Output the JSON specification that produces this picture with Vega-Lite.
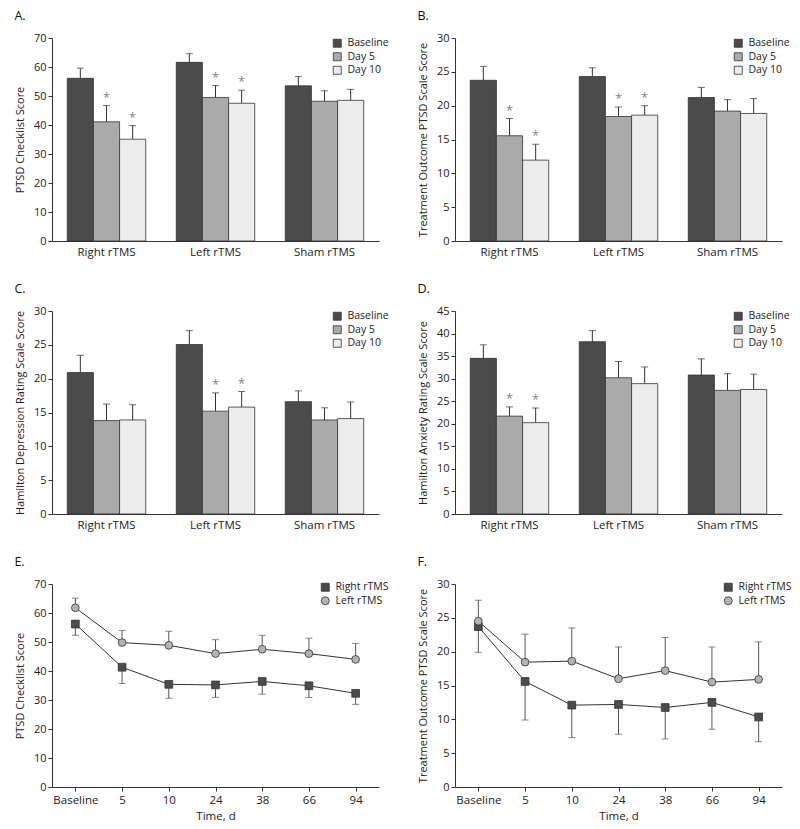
{
  "$schema": "https://vega.github.io/schema/vega-lite/v6.json",
  "background": "white",
  "padding": {"left": 14, "top": 9, "right": 5, "bottom": 5},
  "datasets": {
    "bars": [
      {"panel": "A", "group": "Right rTMS", "time": "Baseline", "mean": 56.1, "upper": 59.6, "star": false},
      {"panel": "A", "group": "Right rTMS", "time": "Day 5", "mean": 41.1, "upper": 46.7, "star": true},
      {"panel": "A", "group": "Right rTMS", "time": "Day 10", "mean": 35.1, "upper": 39.8, "star": true},
      {"panel": "A", "group": "Left rTMS", "time": "Baseline", "mean": 61.6, "upper": 64.6, "star": false},
      {"panel": "A", "group": "Left rTMS", "time": "Day 5", "mean": 49.5, "upper": 53.6, "star": true},
      {"panel": "A", "group": "Left rTMS", "time": "Day 10", "mean": 47.5, "upper": 52.0, "star": true},
      {"panel": "A", "group": "Sham rTMS", "time": "Baseline", "mean": 53.5, "upper": 56.7, "star": false},
      {"panel": "A", "group": "Sham rTMS", "time": "Day 5", "mean": 48.2, "upper": 51.8, "star": false},
      {"panel": "A", "group": "Sham rTMS", "time": "Day 10", "mean": 48.5, "upper": 52.3, "star": false},
      {"panel": "B", "group": "Right rTMS", "time": "Baseline", "mean": 23.75, "upper": 25.8, "star": false},
      {"panel": "B", "group": "Right rTMS", "time": "Day 5", "mean": 15.55, "upper": 18.1, "star": true},
      {"panel": "B", "group": "Right rTMS", "time": "Day 10", "mean": 11.95, "upper": 14.3, "star": true},
      {"panel": "B", "group": "Left rTMS", "time": "Baseline", "mean": 24.3, "upper": 25.6, "star": false},
      {"panel": "B", "group": "Left rTMS", "time": "Day 5", "mean": 18.4, "upper": 19.8, "star": true},
      {"panel": "B", "group": "Left rTMS", "time": "Day 10", "mean": 18.6, "upper": 20.0, "star": true},
      {"panel": "B", "group": "Sham rTMS", "time": "Baseline", "mean": 21.2, "upper": 22.7, "star": false},
      {"panel": "B", "group": "Sham rTMS", "time": "Day 5", "mean": 19.2, "upper": 20.9, "star": false},
      {"panel": "B", "group": "Sham rTMS", "time": "Day 10", "mean": 18.85, "upper": 21.05, "star": false},
      {"panel": "C", "group": "Right rTMS", "time": "Baseline", "mean": 20.9, "upper": 23.45, "star": false},
      {"panel": "C", "group": "Right rTMS", "time": "Day 5", "mean": 13.8, "upper": 16.25, "star": false},
      {"panel": "C", "group": "Right rTMS", "time": "Day 10", "mean": 13.9, "upper": 16.15, "star": false},
      {"panel": "C", "group": "Left rTMS", "time": "Baseline", "mean": 25.05, "upper": 27.1, "star": false},
      {"panel": "C", "group": "Left rTMS", "time": "Day 5", "mean": 15.2, "upper": 17.9, "star": true},
      {"panel": "C", "group": "Left rTMS", "time": "Day 10", "mean": 15.8, "upper": 18.1, "star": true},
      {"panel": "C", "group": "Sham rTMS", "time": "Baseline", "mean": 16.6, "upper": 18.2, "star": false},
      {"panel": "C", "group": "Sham rTMS", "time": "Day 5", "mean": 13.9, "upper": 15.7, "star": false},
      {"panel": "C", "group": "Sham rTMS", "time": "Day 10", "mean": 14.1, "upper": 16.55, "star": false},
      {"panel": "D", "group": "Right rTMS", "time": "Baseline", "mean": 34.5, "upper": 37.5, "star": false},
      {"panel": "D", "group": "Right rTMS", "time": "Day 5", "mean": 21.7, "upper": 23.75, "star": true},
      {"panel": "D", "group": "Right rTMS", "time": "Day 10", "mean": 20.25, "upper": 23.5, "star": true},
      {"panel": "D", "group": "Left rTMS", "time": "Baseline", "mean": 38.2, "upper": 40.65, "star": false},
      {"panel": "D", "group": "Left rTMS", "time": "Day 5", "mean": 30.2, "upper": 33.8, "star": false},
      {"panel": "D", "group": "Left rTMS", "time": "Day 10", "mean": 28.9, "upper": 32.6, "star": false},
      {"panel": "D", "group": "Sham rTMS", "time": "Baseline", "mean": 30.8, "upper": 34.4, "star": false},
      {"panel": "D", "group": "Sham rTMS", "time": "Day 5", "mean": 27.4, "upper": 31.1, "star": false},
      {"panel": "D", "group": "Sham rTMS", "time": "Day 10", "mean": 27.6, "upper": 31.0, "star": false}
    ],
    "lines": [
      {"panel": "E", "series": "Right rTMS", "time": "Baseline", "mean": 56.2, "err": 52.3},
      {"panel": "E", "series": "Right rTMS", "time": "5", "mean": 41.3, "err": 35.7},
      {"panel": "E", "series": "Right rTMS", "time": "10", "mean": 35.4, "err": 30.6},
      {"panel": "E", "series": "Right rTMS", "time": "24", "mean": 35.2, "err": 30.9},
      {"panel": "E", "series": "Right rTMS", "time": "38", "mean": 36.4, "err": 32.0},
      {"panel": "E", "series": "Right rTMS", "time": "66", "mean": 34.9, "err": 30.9},
      {"panel": "E", "series": "Right rTMS", "time": "94", "mean": 32.3, "err": 28.5},
      {"panel": "E", "series": "Left rTMS", "time": "Baseline", "mean": 61.8, "err": 65.1},
      {"panel": "E", "series": "Left rTMS", "time": "5", "mean": 49.8, "err": 54.0},
      {"panel": "E", "series": "Left rTMS", "time": "10", "mean": 48.85, "err": 53.7},
      {"panel": "E", "series": "Left rTMS", "time": "24", "mean": 46.0, "err": 50.8},
      {"panel": "E", "series": "Left rTMS", "time": "38", "mean": 47.5, "err": 52.3},
      {"panel": "E", "series": "Left rTMS", "time": "66", "mean": 46.0, "err": 51.3},
      {"panel": "E", "series": "Left rTMS", "time": "94", "mean": 44.0, "err": 49.5},
      {"panel": "F", "series": "Right rTMS", "time": "Baseline", "mean": 23.7, "err": 19.9},
      {"panel": "F", "series": "Right rTMS", "time": "5", "mean": 15.6, "err": 9.9},
      {"panel": "F", "series": "Right rTMS", "time": "10", "mean": 12.1, "err": 7.3},
      {"panel": "F", "series": "Right rTMS", "time": "24", "mean": 12.2, "err": 7.8},
      {"panel": "F", "series": "Right rTMS", "time": "38", "mean": 11.75, "err": 7.1},
      {"panel": "F", "series": "Right rTMS", "time": "66", "mean": 12.5, "err": 8.55},
      {"panel": "F", "series": "Right rTMS", "time": "94", "mean": 10.35, "err": 6.7},
      {"panel": "F", "series": "Left rTMS", "time": "Baseline", "mean": 24.5, "err": 27.6},
      {"panel": "F", "series": "Left rTMS", "time": "5", "mean": 18.45, "err": 22.6},
      {"panel": "F", "series": "Left rTMS", "time": "10", "mean": 18.6, "err": 23.5},
      {"panel": "F", "series": "Left rTMS", "time": "24", "mean": 16.0, "err": 20.7},
      {"panel": "F", "series": "Left rTMS", "time": "38", "mean": 17.2, "err": 22.1},
      {"panel": "F", "series": "Left rTMS", "time": "66", "mean": 15.5, "err": 20.7},
      {"panel": "F", "series": "Left rTMS", "time": "94", "mean": 15.9, "err": 21.45}
    ]
  },
  "spacing": 24,
  "resolve": {"scale": {"color": "independent", "shape": "independent"}, "legend": {"color": "independent", "shape": "independent"}},
  "vconcat": [
    {
      "hconcat": [
        {
          "title": {"text": "A."},
          "width": 327, "height": 203,
          "data": {"name": "bars"},
          "transform": [{"filter": "datum.panel === 'A'"}],
          "encoding": {
            "x": {"field": "group", "type": "nominal", "sort": ["Right rTMS", "Left rTMS", "Sham rTMS"], "scale": {"paddingInner": 0.28, "paddingOuter": 0.14}, "axis": {"title": null, "labelAngle": 0, "ticks": false, "labelPadding": 5, "labelFontSize": 11.5}},
            "xOffset": {"field": "time", "type": "nominal", "sort": ["Baseline", "Day 5", "Day 10"], "scale": {"paddingInner": 0, "paddingOuter": 0}},
            "y": {"field": "mean", "type": "quantitative", "title": "PTSD Checklist Score", "scale": {"domain": [0, 70]}, "axis": {"values": [0, 10, 20, 30, 40, 50, 60, 70]}}
          },
          "layer": [
            {"mark": {"type": "rule", "color": "#333", "strokeWidth": 1}, "encoding": {"y2": {"field": "upper"}}},
            {"mark": {"type": "tick", "color": "#333", "thickness": 1, "size": 7}, "encoding": {"y": {"field": "upper", "type": "quantitative", "title": "PTSD Checklist Score", "scale": {"domain": [0, 70]}, "axis": {"values": [0, 10, 20, 30, 40, 50, 60, 70]}}}},
            {"mark": {"type": "bar", "stroke": "#333", "strokeWidth": 0.8}, "encoding": {"color": {"field": "time", "type": "nominal", "scale": {"domain": ["Baseline", "Day 5", "Day 10"], "range": ["#4b4b4b", "#aaaaaa", "#ececec"]}, "legend": {"title": null, "orient": "none", "legendX": 280, "legendY": 0}}}},
            {"transform": [{"filter": "datum.star"}], "mark": {"type": "text", "text": "*", "color": "#888", "fontSize": 13, "dy": -4, "baseline": "alphabetic"}, "encoding": {"y": {"field": "upper", "type": "quantitative", "title": "PTSD Checklist Score", "scale": {"domain": [0, 70]}, "axis": {"values": [0, 10, 20, 30, 40, 50, 60, 70]}}}}
          ]
        },
        {
          "title": {"text": "B."},
          "width": 327, "height": 203,
          "data": {"name": "bars"},
          "transform": [{"filter": "datum.panel === 'B'"}],
          "encoding": {
            "x": {"field": "group", "type": "nominal", "sort": ["Right rTMS", "Left rTMS", "Sham rTMS"], "scale": {"paddingInner": 0.28, "paddingOuter": 0.14}, "axis": {"title": null, "labelAngle": 0, "ticks": false, "labelPadding": 5, "labelFontSize": 11.5}},
            "xOffset": {"field": "time", "type": "nominal", "sort": ["Baseline", "Day 5", "Day 10"], "scale": {"paddingInner": 0, "paddingOuter": 0}},
            "y": {"field": "mean", "type": "quantitative", "title": "Treatment Outcome PTSD Scale Score", "scale": {"domain": [0, 30]}, "axis": {"values": [0, 5, 10, 15, 20, 25, 30]}}
          },
          "layer": [
            {"mark": {"type": "rule", "color": "#333", "strokeWidth": 1}, "encoding": {"y2": {"field": "upper"}}},
            {"mark": {"type": "tick", "color": "#333", "thickness": 1, "size": 7}, "encoding": {"y": {"field": "upper", "type": "quantitative", "title": "Treatment Outcome PTSD Scale Score", "scale": {"domain": [0, 30]}, "axis": {"values": [0, 5, 10, 15, 20, 25, 30]}}}},
            {"mark": {"type": "bar", "stroke": "#333", "strokeWidth": 0.8}, "encoding": {"color": {"field": "time", "type": "nominal", "scale": {"domain": ["Baseline", "Day 5", "Day 10"], "range": ["#4b4b4b", "#aaaaaa", "#ececec"]}, "legend": {"title": null, "orient": "none", "legendX": 278, "legendY": 0}}}},
            {"transform": [{"filter": "datum.star"}], "mark": {"type": "text", "text": "*", "color": "#888", "fontSize": 13, "dy": -4, "baseline": "alphabetic"}, "encoding": {"y": {"field": "upper", "type": "quantitative", "title": "Treatment Outcome PTSD Scale Score", "scale": {"domain": [0, 30]}, "axis": {"values": [0, 5, 10, 15, 20, 25, 30]}}}}
          ]
        }
      ],
      "spacing": 28,
      "resolve": {"scale": {"color": "independent"}, "legend": {"color": "independent"}}
    },
    {
      "hconcat": [
        {
          "title": {"text": "C."},
          "width": 327, "height": 203,
          "data": {"name": "bars"},
          "transform": [{"filter": "datum.panel === 'C'"}],
          "encoding": {
            "x": {"field": "group", "type": "nominal", "sort": ["Right rTMS", "Left rTMS", "Sham rTMS"], "scale": {"paddingInner": 0.28, "paddingOuter": 0.14}, "axis": {"title": null, "labelAngle": 0, "ticks": false, "labelPadding": 5, "labelFontSize": 11.5}},
            "xOffset": {"field": "time", "type": "nominal", "sort": ["Baseline", "Day 5", "Day 10"], "scale": {"paddingInner": 0, "paddingOuter": 0}},
            "y": {"field": "mean", "type": "quantitative", "title": "Hamilton Depression Rating Scale Score", "scale": {"domain": [0, 30]}, "axis": {"values": [0, 5, 10, 15, 20, 25, 30]}}
          },
          "layer": [
            {"mark": {"type": "rule", "color": "#333", "strokeWidth": 1}, "encoding": {"y2": {"field": "upper"}}},
            {"mark": {"type": "tick", "color": "#333", "thickness": 1, "size": 7}, "encoding": {"y": {"field": "upper", "type": "quantitative", "title": "Hamilton Depression Rating Scale Score", "scale": {"domain": [0, 30]}, "axis": {"values": [0, 5, 10, 15, 20, 25, 30]}}}},
            {"mark": {"type": "bar", "stroke": "#333", "strokeWidth": 0.8}, "encoding": {"color": {"field": "time", "type": "nominal", "scale": {"domain": ["Baseline", "Day 5", "Day 10"], "range": ["#4b4b4b", "#aaaaaa", "#ececec"]}, "legend": {"title": null, "orient": "none", "legendX": 280, "legendY": 0}}}},
            {"transform": [{"filter": "datum.star"}], "mark": {"type": "text", "text": "*", "color": "#888", "fontSize": 13, "dy": -4, "baseline": "alphabetic"}, "encoding": {"y": {"field": "upper", "type": "quantitative", "title": "Hamilton Depression Rating Scale Score", "scale": {"domain": [0, 30]}, "axis": {"values": [0, 5, 10, 15, 20, 25, 30]}}}}
          ]
        },
        {
          "title": {"text": "D."},
          "width": 327, "height": 203,
          "data": {"name": "bars"},
          "transform": [{"filter": "datum.panel === 'D'"}],
          "encoding": {
            "x": {"field": "group", "type": "nominal", "sort": ["Right rTMS", "Left rTMS", "Sham rTMS"], "scale": {"paddingInner": 0.28, "paddingOuter": 0.14}, "axis": {"title": null, "labelAngle": 0, "ticks": false, "labelPadding": 5, "labelFontSize": 11.5}},
            "xOffset": {"field": "time", "type": "nominal", "sort": ["Baseline", "Day 5", "Day 10"], "scale": {"paddingInner": 0, "paddingOuter": 0}},
            "y": {"field": "mean", "type": "quantitative", "title": "Hamilton Anxiety Rating Scale Score", "scale": {"domain": [0, 45]}, "axis": {"values": [0, 5, 10, 15, 20, 25, 30, 35, 40, 45]}}
          },
          "layer": [
            {"mark": {"type": "rule", "color": "#333", "strokeWidth": 1}, "encoding": {"y2": {"field": "upper"}}},
            {"mark": {"type": "tick", "color": "#333", "thickness": 1, "size": 7}, "encoding": {"y": {"field": "upper", "type": "quantitative", "title": "Hamilton Anxiety Rating Scale Score", "scale": {"domain": [0, 45]}, "axis": {"values": [0, 5, 10, 15, 20, 25, 30, 35, 40, 45]}}}},
            {"mark": {"type": "bar", "stroke": "#333", "strokeWidth": 0.8}, "encoding": {"color": {"field": "time", "type": "nominal", "scale": {"domain": ["Baseline", "Day 5", "Day 10"], "range": ["#4b4b4b", "#aaaaaa", "#ececec"]}, "legend": {"title": null, "orient": "none", "legendX": 278, "legendY": 0}}}},
            {"transform": [{"filter": "datum.star"}], "mark": {"type": "text", "text": "*", "color": "#888", "fontSize": 13, "dy": -4, "baseline": "alphabetic"}, "encoding": {"y": {"field": "upper", "type": "quantitative", "title": "Hamilton Anxiety Rating Scale Score", "scale": {"domain": [0, 45]}, "axis": {"values": [0, 5, 10, 15, 20, 25, 30, 35, 40, 45]}}}}
          ]
        }
      ],
      "spacing": 28,
      "resolve": {"scale": {"color": "independent"}, "legend": {"color": "independent"}}
    },
    {
      "hconcat": [
        {
          "title": {"text": "E."},
          "width": 327, "height": 203,
          "data": {"name": "lines"},
          "transform": [{"filter": "datum.panel === 'E'"}],
          "encoding": {
            "x": {"field": "time", "type": "ordinal", "sort": ["Baseline", "5", "10", "24", "38", "66", "94"], "scale": {"type": "point", "padding": 0.5}, "axis": {"title": "Time, d", "labelAngle": 0, "tickSize": 4, "labelPadding": 3, "titlePadding": 5, "labelFontSize": 11.5, "titleFontSize": 11.5}},
            "y": {"field": "mean", "type": "quantitative", "title": "PTSD Checklist Score", "scale": {"domain": [0, 70]}, "axis": {"values": [0, 10, 20, 30, 40, 50, 60, 70]}}
          },
          "layer": [
            {"mark": {"type": "rule", "color": "#555", "strokeWidth": 1}, "encoding": {"y2": {"field": "err"}}},
            {"mark": {"type": "tick", "color": "#555", "thickness": 1, "size": 7}, "encoding": {"y": {"field": "err", "type": "quantitative", "title": "PTSD Checklist Score", "scale": {"domain": [0, 70]}, "axis": {"values": [0, 10, 20, 30, 40, 50, 60, 70]}}}},
            {"mark": {"type": "line", "color": "#333", "strokeWidth": 1}, "encoding": {"detail": {"field": "series"}}},
            {"mark": {"type": "point", "filled": true, "size": 60, "stroke": "#333", "strokeWidth": 0.8, "opacity": 1}, "encoding": {
              "color": {"field": "series", "type": "nominal", "scale": {"domain": ["Right rTMS", "Left rTMS"], "range": ["#4b4b4b", "#b3b3b3"]}, "legend": {"title": null, "orient": "none", "legendX": 268, "legendY": -2}},
              "shape": {"field": "series", "type": "nominal", "scale": {"domain": ["Right rTMS", "Left rTMS"], "range": ["square", "circle"]}, "legend": {"title": null, "orient": "none", "legendX": 268, "legendY": -2}}}}
          ]
        },
        {
          "title": {"text": "F."},
          "width": 327, "height": 203,
          "data": {"name": "lines"},
          "transform": [{"filter": "datum.panel === 'F'"}],
          "encoding": {
            "x": {"field": "time", "type": "ordinal", "sort": ["Baseline", "5", "10", "24", "38", "66", "94"], "scale": {"type": "point", "padding": 0.5}, "axis": {"title": "Time, d", "labelAngle": 0, "tickSize": 4, "labelPadding": 3, "titlePadding": 5, "labelFontSize": 11.5, "titleFontSize": 11.5}},
            "y": {"field": "mean", "type": "quantitative", "title": "Treatment Outcome PTSD Scale Score", "scale": {"domain": [0, 30]}, "axis": {"values": [0, 5, 10, 15, 20, 25, 30]}}
          },
          "layer": [
            {"mark": {"type": "rule", "color": "#555", "strokeWidth": 1}, "encoding": {"y2": {"field": "err"}}},
            {"mark": {"type": "tick", "color": "#555", "thickness": 1, "size": 7}, "encoding": {"y": {"field": "err", "type": "quantitative", "title": "Treatment Outcome PTSD Scale Score", "scale": {"domain": [0, 30]}, "axis": {"values": [0, 5, 10, 15, 20, 25, 30]}}}},
            {"mark": {"type": "line", "color": "#333", "strokeWidth": 1}, "encoding": {"detail": {"field": "series"}}},
            {"mark": {"type": "point", "filled": true, "size": 60, "stroke": "#333", "strokeWidth": 0.8, "opacity": 1}, "encoding": {
              "color": {"field": "series", "type": "nominal", "scale": {"domain": ["Right rTMS", "Left rTMS"], "range": ["#4b4b4b", "#b3b3b3"]}, "legend": {"title": null, "orient": "none", "legendX": 268, "legendY": -2}},
              "shape": {"field": "series", "type": "nominal", "scale": {"domain": ["Right rTMS", "Left rTMS"], "range": ["square", "circle"]}, "legend": {"title": null, "orient": "none", "legendX": 268, "legendY": -2}}}}
          ]
        }
      ],
      "spacing": 28,
      "resolve": {"scale": {"color": "independent", "shape": "independent"}, "legend": {"color": "independent", "shape": "independent"}}
    }
  ],
  "config": {
    "font": "Open Sans",
    "view": {"stroke": null},
    "axis": {"domainColor": "#333", "tickColor": "#333", "labelColor": "#222", "titleColor": "#222", "labelFontSize": 11, "titleFontSize": 11, "titleFontWeight": "normal", "grid": false, "tickSize": 4, "titlePadding": 8},
    "title": {"fontSize": 12.5, "fontWeight": "normal", "anchor": "start", "frame": "bounds", "offset": 10, "color": "#111"},
    "legend": {"labelFontSize": 10.5, "labelColor": "#222", "symbolType": "square", "symbolSize": 64, "symbolStrokeColor": "#333", "symbolStrokeWidth": 0.8, "rowPadding": 1.5, "labelOffset": 5, "padding": 0}
  }
}
